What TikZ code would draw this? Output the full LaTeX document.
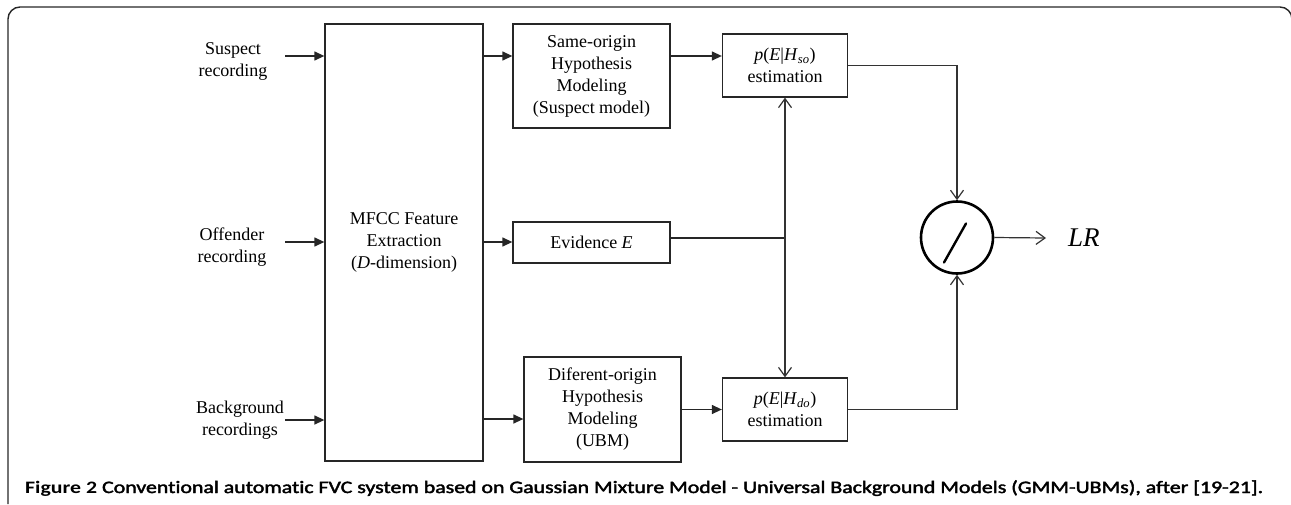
\documentclass[tikz,border=0pt]{standalone}
\usepackage{fontspec}
\setmainfont{Liberation Serif}
\newfontfamily\capfont[Ligatures=NoCommon]{Carlito}
\usetikzlibrary{arrows.meta,calc}
\begin{document}
\begin{tikzpicture}[x=1pt,y=-1pt]
\tikzset{
  txt/.style={inner sep=0pt, align=center, font=\fontsize{18}{22}\selectfont},
  blk/.style={txt, draw=black!85, line width=1.3pt},
  fil/.style={-{Triangle[length=10pt,width=9pt]}, line width=1.3pt, draw=black!85, fill=black!85},
  opn/.style={-{Straight Barb[length=9pt,width=13pt]}, line width=1.2pt, draw=black!80},
}
\useasboundingbox (0,0) rectangle (1291,504);

% outer frame, open at the bottom
\draw[line width=1.4pt, black!85] (8,504) -- (8,19) arc[start angle=180, end angle=270, radius=12]
  -- (1280,7) arc[start angle=270, end angle=360, radius=12] -- (1292,504);

% input labels
\node[txt] (sus) at (233,61) {Suspect\\recording};
\node[txt] (off) at (232,247) {Offender\\recording};
\node[txt] (bkg) at (240,420) {Background\\recordings};

% processing blocks
\node[blk, minimum width=158pt, minimum height=437pt] (mfcc) at (404,242.5)
  {MFCC Feature\\Extraction\\(\textit{D}-dimension)};
\node[blk, minimum width=157pt, minimum height=104pt] (smo) at (591.5,76)
  {Same-origin\\Hypothesis\\Modeling\\(Suspect model)};
\node[blk, minimum width=157pt, minimum height=41pt] (evi) at (591.5,242.5)
  {Evidence \textit{E}};
\node[blk, minimum width=157pt, minimum height=105pt] (dmo) at (602.5,409.5)
  {Diferent-origin\\Hypothesis\\Modeling\\(UBM)};
\node[blk, minimum width=125pt, minimum height=63pt] (pso) at (785,65.5)
  {\textit{p}(\textit{E}|\textit{H}\textsubscript{\textit{so}})\\estimation};
\node[blk, minimum width=125pt, minimum height=63pt] (pdo) at (785,409.5)
  {\textit{p}(\textit{E}|\textit{H}\textsubscript{\textit{do}})\\estimation};

% likelihood-ratio divider
\node[circle, draw=black, line width=2.6pt, minimum size=72pt, inner sep=0pt] (div) at (957,237.5) {};
\draw[line width=2.4pt, line cap=round] ($(div.center)+(-13,25)$) -- ($(div.center)+(9,-14)$);
\node[inner sep=0pt, font=\fontsize{27}{30}\selectfont\itshape, anchor=west] (lr) at (1068,238) {LR};

% routing coordinates
\coordinate (ysu) at (285,56);
\coordinate (yof) at (285,242);
\coordinate (ybk) at (285,420);
\coordinate (ydo) at (0,419);
\coordinate (jn) at (785,238);
\coordinate (cso) at (957,65.5);
\coordinate (cdo) at (957,409.5);
\coordinate (lro) at (1046,238);

% inputs into feature extraction
\draw[fil] (ysu) -- (mfcc.west |- ysu);
\draw[fil] (yof) -- (mfcc.west |- yof);
\draw[fil] (ybk) -- (mfcc.west |- ybk);

% feature extraction outputs
\draw[fil] (mfcc.east |- ysu) -- (smo.west |- ysu);
\draw[fil] (mfcc.east |- yof) -- (evi.west |- yof);
\draw[fil] (mfcc.east |- ydo) -- (dmo.west |- ydo);

% models into the estimators
\draw[fil] (smo.east |- ysu) -- (pso.west |- ysu);
\draw[fil] (dmo.east) -- (pdo.west);

% evidence feeds both estimators
\draw[line width=1.8pt, black!85] (evi.east |- jn) -- (jn);
\draw[opn] (jn) -- (pso.south);
\draw[opn] (jn) -- (pdo.north);

% ratio of the two likelihoods
\draw[opn] (pso.east) -- (cso) -- (div.north);
\draw[opn] (pdo.east) -- (cdo) -- (div.south);
\draw[opn] (div.east) -- (lro);

% caption
\node[inner sep=0pt, anchor=base west, font=\capfont\fontsize{17.5}{20}\selectfont] (cap) at (25,493)
  {\resizebox{1238pt}{\height}{\textbf{Figure 2} \addfontfeature{FakeBold=2}Conventional automatic FVC system based on Gaussian Mixture Model - Universal Background Models (GMM-UBMs), after [19-21].}};
\end{tikzpicture}
\end{document}
